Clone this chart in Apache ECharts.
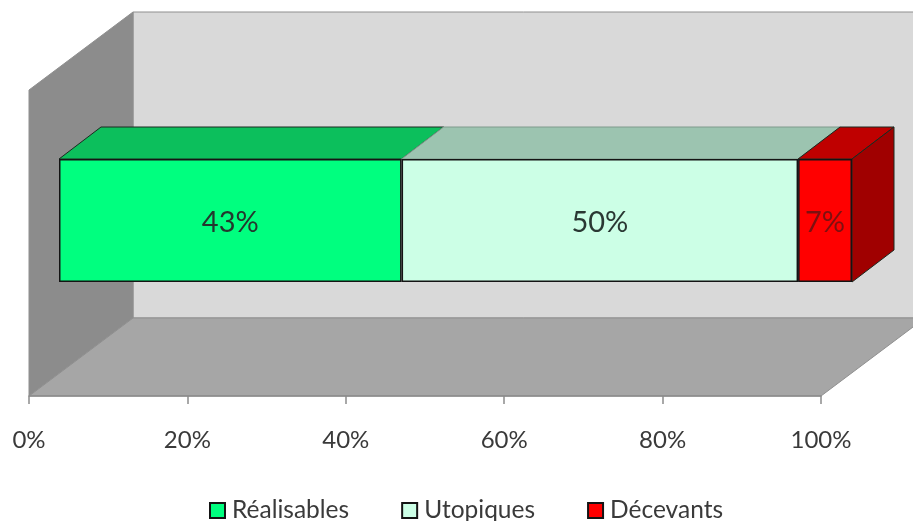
<!DOCTYPE html>
<html><head><meta charset="utf-8">
<style>html,body{margin:0;padding:0;background:#fff}#c{width:913px;height:521px}</style>
<script src="https://cdn.jsdelivr.net/npm/echarts@6/dist/echarts.min.js"></script>
</head><body><div id="c"></div>
<script>
const names = ['Réalisables', 'Utopiques', 'Décevants'];
const values = [43.2, 50, 6.8];
const frontColors = ['#00ff7f', '#ccffe6', '#ff0000'];
const topColors = ['#0cbf5c', '#9cc4b0', '#bf0000'];
const labelColors = ['#24382e', '#2a3833', '#7d1010'];
const sideColor = '#a00000';
const tickFormat = '{value}%';

const chart = echarts.init(document.getElementById('c'), null, {renderer: 'canvas'});
const depth = [42, -32];
const F = 'Lato, sans-serif';

function poly(points, fill, z) {
  return {type: 'polygon', z: z, shape: {points: points}, style: {fill: fill, stroke: '#8f8f8f', lineWidth: 1}};
}
const starts = values.map((v, i) => values.slice(0, i).reduce((a, b) => a + b, 0));

const series = names.map((n, i) => ({
  name: n, type: 'bar', stack: 'total', xAxisIndex: 1, yAxisIndex: 1,
  barWidth: '100%', z: 3, data: [values[i]],
  itemStyle: {color: frontColors[i], borderColor: '#141414', borderWidth: 1.5},
  label: {show: true, position: 'inside', offset: [0, 2], fontFamily: F, fontSize: 29, color: labelColors[i],
    formatter: p => Math.round(p.value) + '%'}
}));
series.push({
  type: 'custom', xAxisIndex: 1, yAxisIndex: 1, z: 2, silent: true, legendHoverLink: false,
  clip: false, encode: {x: [0, 1], y: 2},
  data: values.map((v, i) => [starts[i], starts[i] + v, 0, i]),
  renderItem: function (params, api) {
    const a = api.coord([api.value(0), 0]);
    const b = api.coord([api.value(1), 0]);
    const h = api.size([0, 1])[1];
    const idx = api.value(3);
    const top = a[1] - h / 2, bot = a[1] + h / 2;
    const dx = depth[0], dy = depth[1];
    const edge = {stroke: '#1a2a20', lineWidth: 1};
    const kids = [{
      type: 'polygon',
      shape: {points: [[a[0], top], [b[0], top], [b[0] + dx, top + dy], [a[0] + dx, top + dy]]},
      style: Object.assign({fill: topColors[idx]}, idx === 0 || idx === 2 ? edge : {stroke: '#7f9a8c', lineWidth: 1})
    }];
    if (idx === values.length - 1) {
      kids.push({
        type: 'polygon',
        shape: {points: [[b[0], top], [b[0] + dx, top + dy], [b[0] + dx, bot + dy], [b[0], bot]]},
        style: Object.assign({fill: sideColor}, edge)
      });
    }
    return {type: 'group', children: kids};
  }
});

chart.setOption({
  animation: false,
  backgroundColor: '#fff',
  graphic: {elements: [
    {type: 'rect', z: -3, shape: {x: 133, y: 12, width: 790, height: 306}, style: {fill: '#d9d9d9', stroke: '#8f8f8f', lineWidth: 1}},
    poly([[29, 90], [133, 12], [133, 318], [29, 396]], '#8c8c8c', -2),
    poly([[29, 396], [133, 318], [925, 318], [821, 396]], '#a6a6a6', -2)
  ]},
  legend: {
    show: true, data: names, left: 204, top: 493, itemWidth: 15, itemHeight: 15, itemGap: 52,
    icon: 'rect', selectedMode: false,
    itemStyle: {borderWidth: 2},
    textStyle: {fontFamily: F, fontSize: 24.5, color: '#3a3a3a', padding: [0, 0, 0, 2]}
  },
  grid: [
    {left: 29, width: 792, top: 12, height: 384},
    {left: 59, width: 793, top: 159, height: 123}
  ],
  xAxis: [
    {type: 'value', gridIndex: 0, min: 0, max: 100, interval: 20,
      axisLine: {show: true, lineStyle: {color: '#8c8c8c', width: 1.5}},
      axisTick: {show: true, length: 8, lineStyle: {color: '#8c8c8c', width: 1.5}},
      splitLine: {show: false},
      axisLabel: {formatter: tickFormat, margin: 32, fontFamily: F, fontSize: 24, color: '#3a3a3a', hideOverlap: false}},
    {type: 'value', gridIndex: 1, min: 0, max: 100, show: false, splitLine: {show: false}}
  ],
  yAxis: [
    {type: 'category', gridIndex: 0, data: [''], show: false},
    {type: 'category', gridIndex: 1, data: [''], show: false}
  ],
  series: series
});
</script></body></html>
